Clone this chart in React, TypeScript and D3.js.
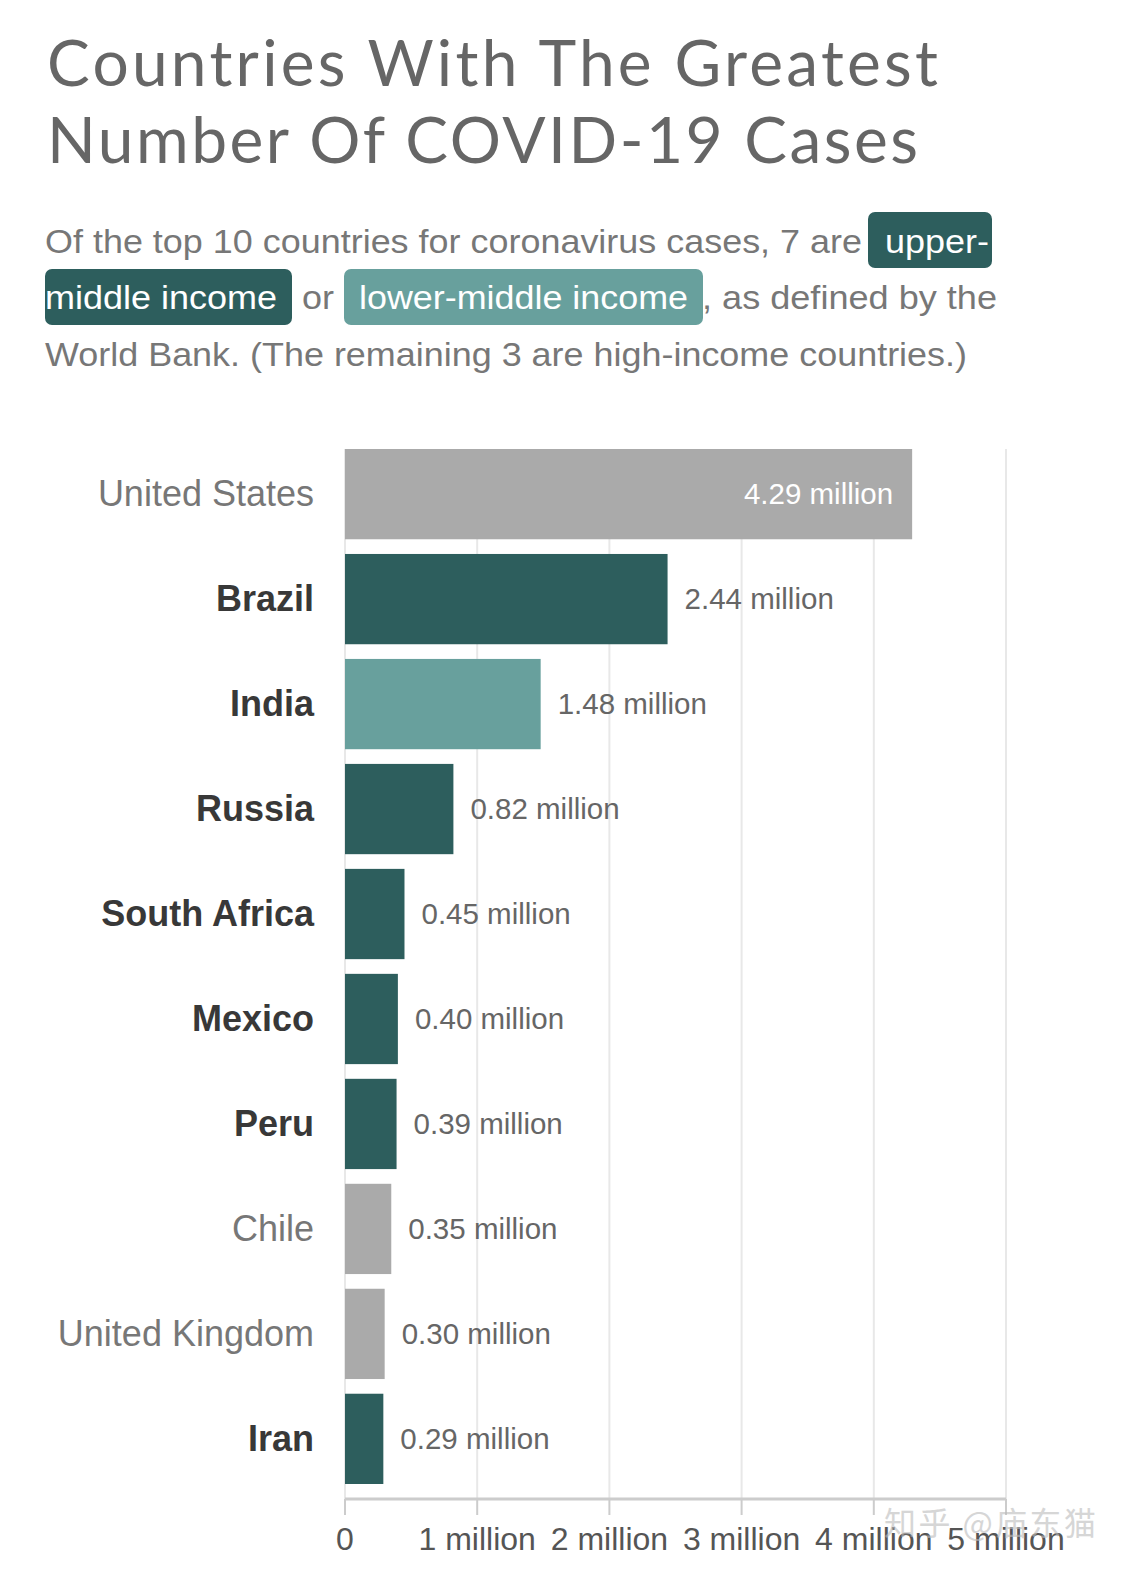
import * as d3 from 'd3';
import React from 'react';

const countries = ['United States', 'Brazil', 'India', 'Russia', 'South Africa', 'Mexico', 'Peru', 'Chile', 'United Kingdom', 'Iran'];
const cases = [4.29, 2.44, 1.48, 0.82, 0.45, 0.4, 0.39, 0.35, 0.3, 0.29];
const income = ['high', 'upper', 'lower', 'upper', 'upper', 'upper', 'upper', 'high', 'high', 'upper'];
const tickValues = [0, 1, 2, 3, 4, 5];
const tickLabels = ['0', '1 million', '2 million', '3 million', '4 million', '5 million'];

const colors: Record<string, string> = {
  high: '#aaaaaa',
  upper: '#2d5e5d',
  lower: '#68a09d'
};

const W = 1125;
const H = 1578;
const sans = '"Liberation Sans", Arial, Helvetica, sans-serif';

const App = (): JSX.Element => {
  const x = d3.scaleLinear().domain([0, 5]).range([345, 1006]);
  const y = d3
    .scaleBand<string>()
    .domain(countries)
    .range([449, 1484])
    .paddingInner(0.14)
    .paddingOuter(0);
  const axisY = 1499;

  return (
    <svg width={W} height={H} style={{ position: 'absolute', left: 0, top: 0, background: '#fff' }}>
      <rect width={W} height={H} fill="#fff" />
      {/* title */}
      <g fontFamily='Lato, "Open Sans", sans-serif' fill="#666" fontSize={64}>
        <text x={47} y={86} textLength={891} lengthAdjust="spacing">Countries With The Greatest</text>
        <text x={47} y={163} textLength={871} lengthAdjust="spacing">Number Of COVID-19 Cases</text>
      </g>

      {/* subtitle with highlighted phrases */}
      <g fontFamily={sans} fontSize={34}>
        <rect x={868} y={212} width={124} height={56} rx={7} fill={colors.upper} />
        <rect x={45} y={269} width={247} height={56} rx={7} fill={colors.upper} />
        <rect x={344} y={269} width={359} height={56} rx={7} fill={colors.lower} />
        <text x={45} y={253} fill="#777" textLength={817} lengthAdjust="spacingAndGlyphs">
          Of the top 10 countries for coronavirus cases, 7 are
        </text>
        <text x={885} y={253} fill="#fff" textLength={104} lengthAdjust="spacingAndGlyphs">upper-</text>
        <text x={45} y={309} fill="#fff" textLength={232} lengthAdjust="spacingAndGlyphs">middle income</text>
        <text x={302} y={309} fill="#777" textLength={32} lengthAdjust="spacingAndGlyphs">or</text>
        <text x={359} y={309} fill="#fff" textLength={329} lengthAdjust="spacingAndGlyphs">lower-middle income</text>
        <text x={702} y={309} fill="#777" textLength={295} lengthAdjust="spacingAndGlyphs">, as defined by the</text>
        <text x={45} y={366} fill="#777" textLength={922} lengthAdjust="spacingAndGlyphs">
          World Bank. (The remaining 3 are high-income countries.)
        </text>
      </g>

      {/* gridlines */}
      <g>
        {tickValues.map((t) => (
          <line key={t} x1={x(t)} x2={x(t)} y1={449} y2={axisY} stroke="#e8e8e8" strokeWidth={2} />
        ))}
      </g>

      {/* bars */}
      <g>
        {countries.map((c, i) => (
          <rect
            key={c}
            x={x(0)}
            y={y(c)}
            width={x(cases[i]) - x(0)}
            height={y.bandwidth()}
            fill={colors[income[i]]}
          />
        ))}
      </g>

      {/* country labels */}
      <g fontFamily={sans} fontSize={36} textAnchor="end">
        {countries.map((c, i) => (
          <text
            key={c}
            x={314}
            y={(y(c) as number) + y.bandwidth() / 2}
            dy="0.34em"
            fill={income[i] === 'high' ? '#777' : '#383838'}
            fontWeight={income[i] === 'high' ? 400 : 700}
          >
            {c}
          </text>
        ))}
      </g>

      {/* value labels */}
      <g fontFamily={sans} fontSize={29.5}>
        {countries.map((c, i) => {
          const inside = i === 0;
          return (
            <text
              key={c}
              x={inside ? x(cases[i]) - 19 : x(cases[i]) + 17}
              y={(y(c) as number) + y.bandwidth() / 2}
              dy="0.33em"
              textAnchor={inside ? 'end' : 'start'}
              fill={inside ? '#fff' : '#666'}
            >
              {cases[i].toFixed(2)} million
            </text>
          );
        })}
      </g>

      {/* x axis */}
      <g>
        <line x1={x(0)} x2={x(5)} y1={axisY} y2={axisY} stroke="#cccccc" strokeWidth={3} />
        {tickValues.map((t, i) => (
          <g key={t}>
            <line x1={x(t)} x2={x(t)} y1={axisY} y2={axisY + 16} stroke="#cccccc" strokeWidth={2} />
            <text
              x={x(t)}
              y={1550}
              textAnchor="middle"
              fontFamily={sans}
              fontSize={32}
              fill="#555"
            >
              {tickLabels[i]}
            </text>
          </g>
        ))}
      </g>

      {/* watermark */}
      <text
        x={884}
        y={1535}
        fontFamily='"Noto Sans CJK SC", sans-serif'
        fontSize={32}
        fill="#bbb"
        opacity={0.6}
        textLength={212}
        lengthAdjust="spacing"
      >
        知乎 @庙东猫
      </text>
    </svg>
  );
};

export default App;
